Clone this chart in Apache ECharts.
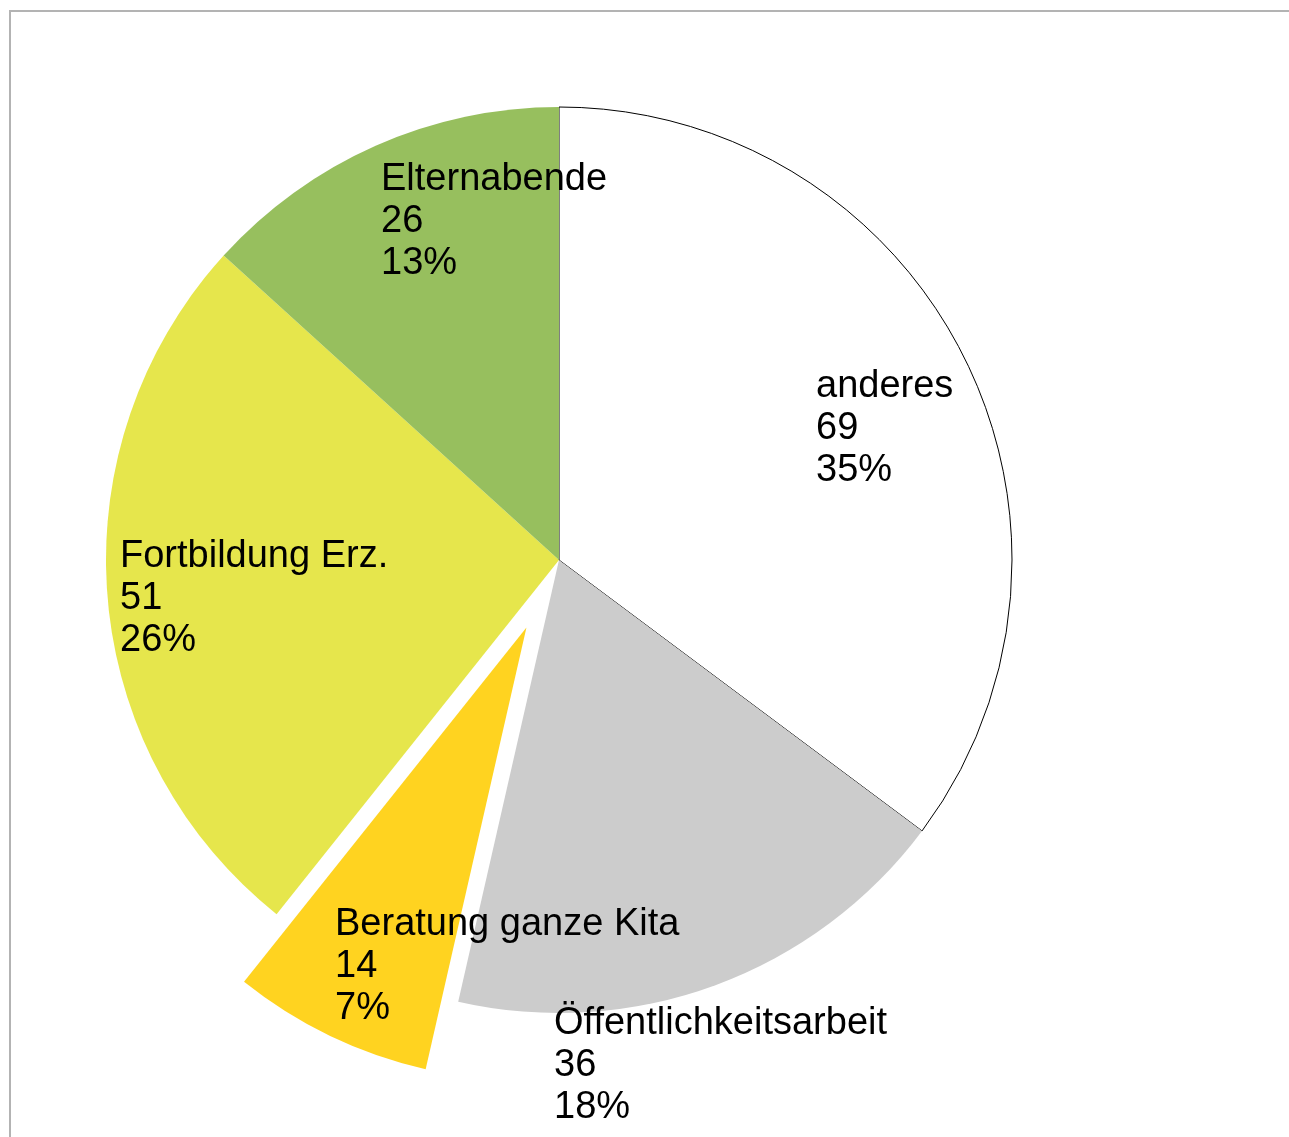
<!DOCTYPE html>
<html>
<head>
<meta charset="utf-8">
<script src="https://cdn.jsdelivr.net/npm/echarts@6/dist/echarts.min.js"></script>
<style>
  html, body { margin: 0; padding: 0; background: #fff; }
  #chart { width: 1289px; height: 1137px; }
</style>
</head>
<body>
<div id="chart"></div>
<script>
// data
var names  = ['anderes', 'Öffentlichkeitsarbeit', 'Beratung ganze Kita', 'Fortbildung Erz.', 'Elternabende'];
var values = [69, 36, 14, 51, 26];
var colors = ['#ffffff', '#cccccc', '#ffd320', '#e6e64c', '#97bf5e'];
var exploded = [false, false, true, false, false];

// top-left corner of each label block (layout only)
var labelPos = [[816, 366], [554, 1003], [335, 904], [120, 536], [381, 159]];

var myChart = echarts.init(document.getElementById('chart'));

var total = values.reduce(function (a, b) { return a + b; }, 0);

var pieData = names.map(function (n, i) {
    var item = {
        name: n,
        value: values[i],
        selected: exploded[i],
        itemStyle: { color: colors[i] }
    };
    if (i == 0) {
        item.itemStyle.borderColor = '#000';
        item.itemStyle.borderWidth = 1;
    }
    return item;
});

// labels: name / value / percent, placed like the original office chart
var labelTexts = names.map(function (n, i) {
    return {
        type: 'text',
        x: labelPos[i][0],
        y: labelPos[i][1],
        z: 100,
        silent: true,
        style: {
            text: n + '\n' + values[i] + '\n' + Math.round(values[i] / total * 100) + '%',
            fill: '#000',
            font: '38px "Liberation Sans"',
            lineHeight: 42,
            align: 'left',
            verticalAlign: 'top'
        }
    };
});

var option = {
    animation: false,
    backgroundColor: '#fff',
    graphic: [{
        type: 'rect',
        shape: { x: 10, y: 11, width: 1400, height: 1300 },
        style: { fill: 'none', stroke: '#b3b3b3', lineWidth: 2 },
        silent: true
    }].concat(labelTexts),
    series: [{
        type: 'pie',
        center: [559, 560],
        radius: [0, 453],
        startAngle: 90,
        clockwise: true,
        selectedMode: 'single',
        selectedOffset: 75,
        emphasis: { disabled: true },
        label: { show: false },
        labelLine: { show: false },
        data: pieData
    }]
};

myChart.setOption(option);
</script>
</body>
</html>
